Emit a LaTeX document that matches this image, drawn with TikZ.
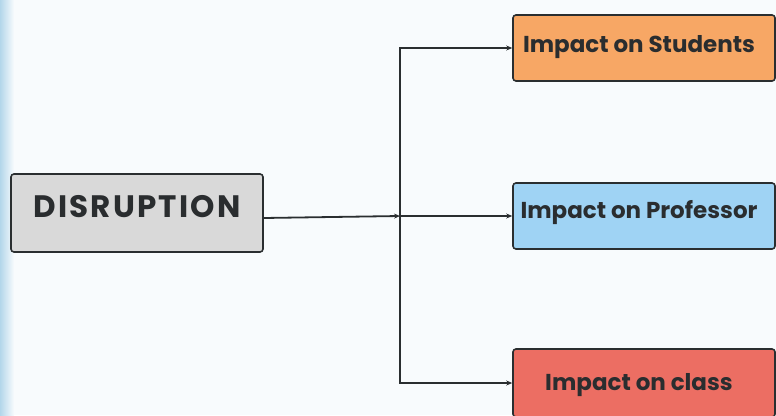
\documentclass[tikz,border=0pt]{standalone}
\usepackage{fontspec}
\setmainfont{Poppins}
\newfontfamily\popsp{Poppins}[LetterSpace=7]
\usetikzlibrary{arrows.meta,positioning}
\definecolor{bgc}{HTML}{F8FBFD}
\definecolor{stripc}{HTML}{B3D6EA}
\definecolor{grayfill}{HTML}{D9D9D9}
\definecolor{orangefill}{HTML}{F7A765}
\definecolor{bluefill}{HTML}{9FD3F4}
\definecolor{redfill}{HTML}{EC6E63}
\definecolor{edgec}{HTML}{2A2E30}
\definecolor{textc}{HTML}{2A2D2F}
\begin{document}
\begin{tikzpicture}[x=1pt,y=-1pt,
  box/.style={draw=edgec, line width=1.6pt, rounded corners=3pt, inner sep=0pt,
    text=textc, font=\bfseries\fontsize{23}{26}\selectfont},
  impact/.style={box, minimum width=262pt, minimum height=66pt},
  conn/.style={draw=edgec, line width=1.8pt},
  arr/.style={conn, -{Stealth[length=6pt,width=5pt]}}
]
\useasboundingbox (0,0) rectangle (776,415);
\fill[bgc] (0,0) rectangle (776,415);
\shade[left color=stripc, right color=bgc] (0,0) rectangle (14,415);

\node[box, fill=grayfill, minimum width=252pt, minimum height=78pt,
      text height=14pt, text depth=6pt, font=\popsp\bfseries\fontsize{31}{33}\selectfont]
  (dis) at (137,213) {DISRUPTION};
\node[impact, fill=orangefill, text height=14pt, text depth=6pt]
  (stu) at (644,48) {Impact on Students\hspace*{10pt}};
\node[impact, fill=bluefill, text height=12pt, text depth=8pt]
  (pro) at (644,216) {Impact on Professor\hspace*{10pt}};
\node[impact, fill=redfill, minimum height=68pt, text height=17pt, text depth=3pt]
  (cla) at (644,383) {Impact on class\hspace*{10pt}};

\coordinate (j) at (400,216);
\draw[arr] ([yshift=-5pt]dis.east) -- (j);
\draw[arr] (j) |- (stu.west);
\draw[arr] (j) -- (pro.west);
\draw[arr] (j) |- (cla.west);
\end{tikzpicture}
\end{document}
